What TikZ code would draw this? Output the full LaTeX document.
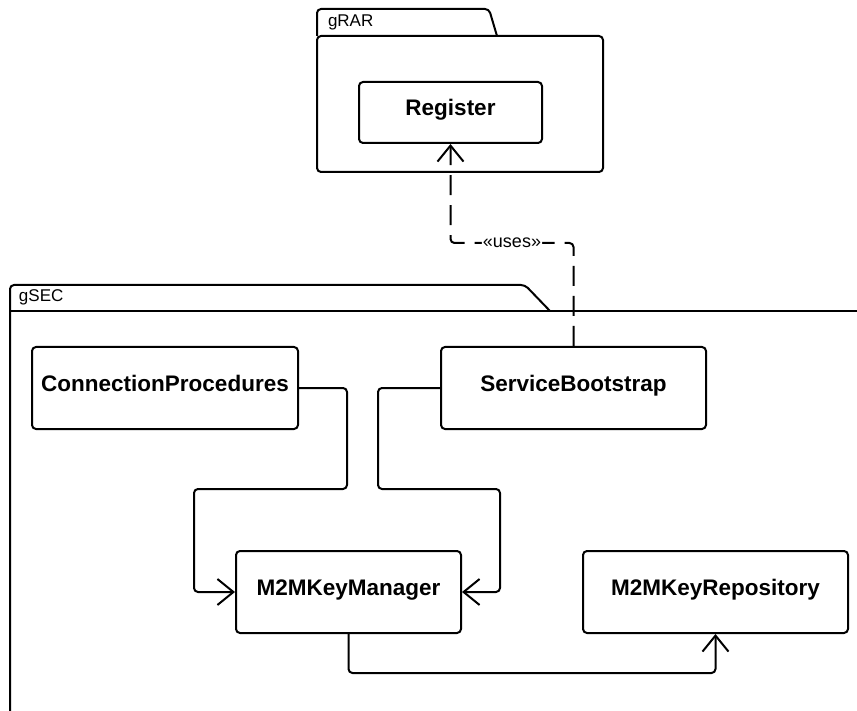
\documentclass[tikz,border=0pt]{standalone}
\usepackage{fontspec}
\setmainfont{Liberation Sans}
\usetikzlibrary{arrows.meta}
\begin{document}
\begin{tikzpicture}[x=1pt,y=-1pt,line width=2pt,
  cls/.style={draw,rounded corners=4pt,anchor=north west,inner sep=0pt,
    minimum height=82pt,text height=16pt,text depth=9pt,
    font=\fontsize{22.5}{26}\selectfont\bfseries},
  pkglabel/.style={anchor=base west,inner sep=0pt,font=\fontsize{17}{20}\selectfont},
  link/.style={rounded corners=4pt,-{Straight Barb[length=16pt,width=26pt]}},
  usedash/.style={dash pattern=on 20pt off 10pt}]
\fill[white] (0,0) rectangle (857,711);
\useasboundingbox (0,0) rectangle (857,711);

% package gRAR
\draw[rounded corners=4pt] (317,36) -- (317,9) -- (489,9) -- (497,36);
\draw[rounded corners=4pt] (317,36) rectangle (603,172);
\node[pkglabel] (grar) at (327,27) {gRAR};

% package gSEC (runs past the right and bottom edges)
\draw[rounded corners=4pt] (10,720) -- (10,285) -- (525,285) -- (550,311);
\draw (10,311) -- (862,311);
\node[pkglabel] (gsec) at (18,302) {gSEC};

% classes
\node[cls,minimum width=183pt,minimum height=61pt] (reg) at (358,81) {Register};
\node[cls,minimum width=266pt] (cp) at (31,346) {ConnectionProcedures};
\node[cls,minimum width=265pt] (sb) at (440,346) {ServiceBootstrap};
\node[cls,minimum width=225pt] (mgr) at (235,550) {M2MKeyManager};
\node[cls,minimum width=265pt] (repo) at (582,550) {M2MKeyRepository};

% associations
\draw[link] (cp.east) -| (347,489) -| (194,0 |- mgr.west) -- (mgr.west);
\draw[link] (sb.west) -| (378,489) -| (500,0 |- mgr.east) -- (mgr.east);
\draw[link] (mgr.south) |- (repo.south |- 0,673) -- (repo.south);

% dependency
\draw[link,usedash] (sb.north) -- (sb.north |- 0,243)
  -- node[fill=white,inner sep=1pt,font=\fontsize{18}{21}\selectfont] (uses) {«uses»}
  (reg.south |- 0,243) -- (reg.south);
\end{tikzpicture}
\end{document}
